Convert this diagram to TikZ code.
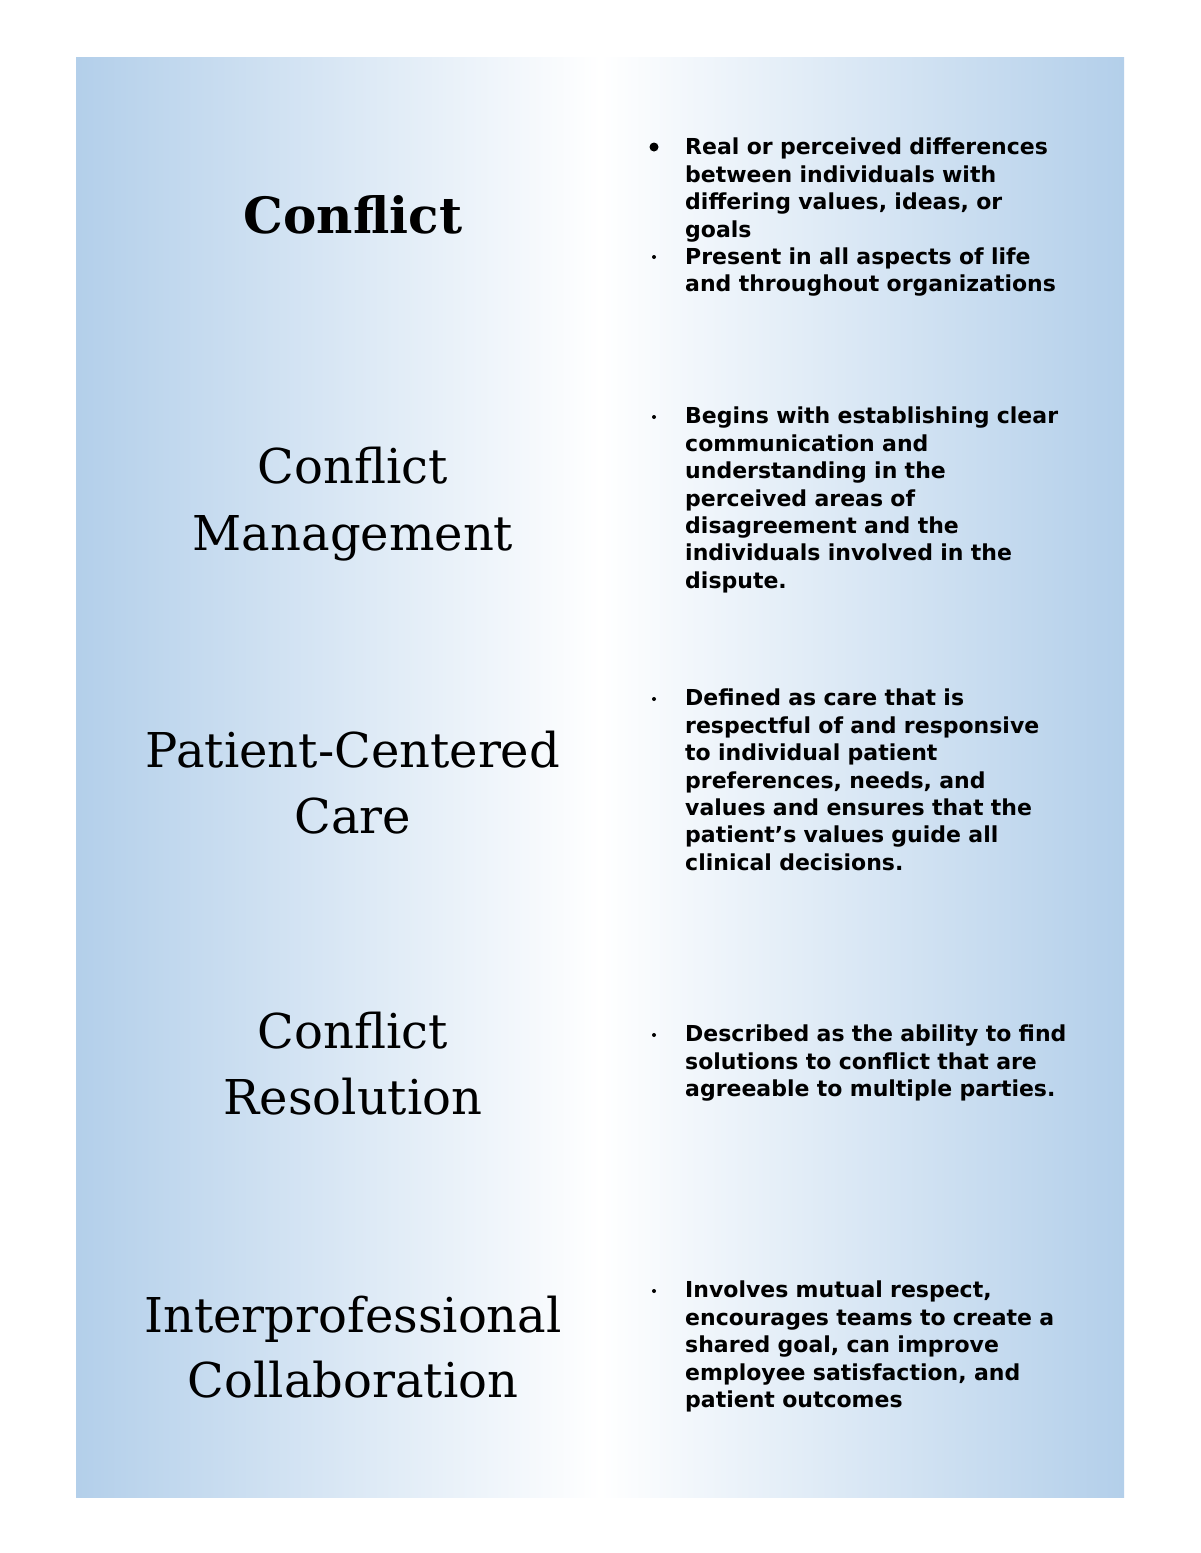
\documentclass[tikz,border=0pt]{standalone}
\usepackage{fontspec}
\newfontfamily\ttl{DejaVu Serif}
\newfontfamily\bod{DejaVu Sans}[BoldFont={DejaVu Sans Bold}]
\definecolor{pblue}{HTML}{B3CFEA}
\begin{document}
\begin{tikzpicture}[x=1pt,y=-1pt,
  title/.style={anchor=base,inner sep=0,font=\ttl\fontsize{48}{67}\selectfont},
  body/.style={anchor=north west,inner sep=0,text width=420pt,align=left,font=\bod\bfseries\fontsize{22}{27.4}\selectfont},
  dot/.style={fill=black,draw=none}]
\useasboundingbox (0,0) rectangle (1200,1553);
\fill[white] (0,0) rectangle (1200,1553);
\shade[left color=pblue,right color=white] (76,57) rectangle (601,1497);
\shade[left color=white,right color=pblue] (600,57) rectangle (1124,1497);
\node[title,font=\ttl\bfseries\fontsize{50}{67}\selectfont] (t1) at (353,233) {Conflict};
\node[title] (t2a) at (353,483) {Conflict};
\node[title] (t2b) at (353,550) {Management};
\node[title] (t3a) at (353,767) {Patient-Centered};
\node[title] (t3b) at (353,833) {Care};
\node[title] (t4a) at (353,1048) {Conflict};
\node[title] (t4b) at (353,1114) {Resolution};
\node[title] (t5a) at (353,1332) {Interprofessional};
\node[title] (t5b) at (353,1397) {Collaboration};
\node[body] (b1) at (685,138) {Real or perceived differences\\between individuals with\\differing values, ideas, or\\goals\\Present in all aspects of life\\and throughout organizations};
\node[body] (b2) at (685,407) {Begins with establishing clear\\communication and\\understanding in the\\perceived areas of\\disagreement and the\\individuals involved in the\\dispute.};
\node[body] (b3) at (685,689) {Defined as care that is\\respectful of and responsive\\to individual patient\\preferences, needs, and\\values and ensures that the\\patient’s values guide all\\clinical decisions.};
\node[body] (b4) at (685,1025) {Described as the ability to find\\solutions to conflict that are\\agreeable to multiple parties.};
\node[body] (b5) at (685,1281) {Involves mutual respect,\\encourages teams to create a\\shared goal, can improve\\employee satisfaction, and\\patient outcomes};
\fill[dot] (654,147) circle (4.5);
\fill[dot] (654,257) circle (2);
\fill[dot] (654,417) circle (2);
\fill[dot] (654,699) circle (2);
\fill[dot] (654,1035) circle (2);
\fill[dot] (654,1291) circle (2);
\end{tikzpicture}
\end{document}
